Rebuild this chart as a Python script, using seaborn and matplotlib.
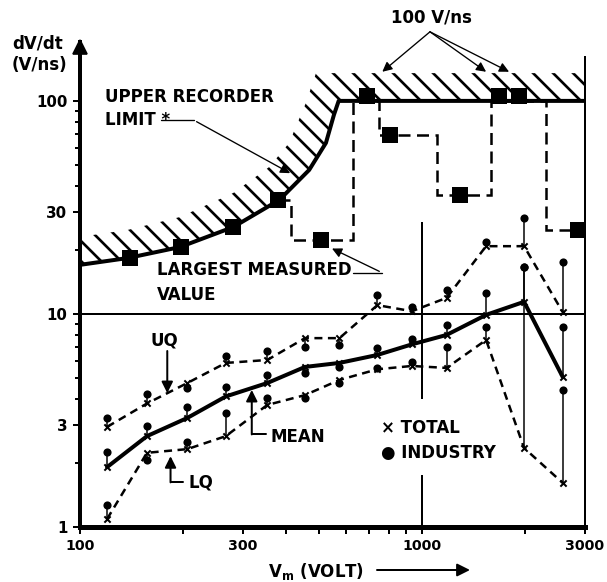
import numpy as np
import seaborn as sns
import matplotlib.pyplot as plt
from matplotlib.ticker import NullFormatter

# quartiles of dV/dt (V/ns) per Vm bin, total and industry
volt = [120, 157, 206, 267, 353, 455, 574, 741, 935, 1181, 1541, 1990, 2582]
uq_total = [2.95, 3.8, 4.74, 5.89, 6.08, 7.7, 7.7, 11.0, 10.3, 11.9, 20.8, 20.8, 10.2]
uq_ind = [3.25, 4.2, 4.5, 6.35, 6.7, 7.0, 7.15, 12.3, 10.8, 12.97, 21.8, 28.2, 17.5]
mean_total = [1.91, 2.67, 3.25, 4.1, 4.74, 5.64, 5.89, 6.42, 7.2, 7.97, 9.9, 11.4, 5.06]
mean_ind = [2.25, 2.98, 3.66, 4.56, 5.17, 5.28, 5.64, 6.92, 7.6, 8.88, 12.6, 16.6, 8.7]
lq_total = [1.09, 2.23, 2.32, 2.67, 3.74, 4.16, 4.9, 5.5, 5.7, 5.58, 7.55, 2.35, 1.61]
lq_ind = [1.27, 2.06, 2.5, 3.43, 4.03, 4.03, 4.74, 5.58, 5.95, 7.0, 8.7, 16.6, 4.4]

# upper recorder limit and its hatched band
limit_volt = [100, 138, 196, 281, 383, 468, 524, 553, 571, 3000]
limit_dvdt = [17.0, 18.3, 20.6, 25.6, 34.3, 47.4, 63.5, 86, 100, 100]
band_volt = [100, 138, 196, 281, 358, 409, 458, 490, 3000]
band_dvdt = [23.0, 24.8, 28.5, 37.0, 49.0, 63.5, 98, 135, 135]

# largest measured values
largest_volt = [140, 198, 281, 380, 506, 690, 807, 1290, 1683, 1923, 2870]
largest_dvdt = [18.3, 20.6, 25.6, 34.3, 22.3, 105, 69, 36.2, 105, 105, 24.8]
step_edges = [380, 414, 627, 750, 1105, 1596, 2302, 2870]
step_levels = [34.3, 22.3, 100, 69, 36.2, 100, 24.8]

sns.set_style("ticks")
plt.rcParams['font.family'] = ['DejaVu Sans']
plt.rcParams['font.weight'] = 'bold'
plt.rcParams['hatch.linewidth'] = 1.6
for key in ['text.color', 'axes.labelcolor', 'xtick.color', 'ytick.color',
            'axes.edgecolor']:
    plt.rcParams[key] = 'black'

fig = plt.figure(figsize=(607 / 120, 582 / 120), dpi=120)
ax = fig.add_axes([80 / 607, 1 - 527 / 582, 505 / 607, 485 / 582])
ax.set_xscale('log')
ax.set_yscale('log')
ax.set_xlim(100, 3000)
ax.set_ylim(1, 189)

# hatched region above recorder limit
ax.fill(band_volt + limit_volt[::-1], band_dvdt + limit_dvdt[::-1],
        facecolor='none', edgecolor='k', hatch='\\\\', lw=0)
ax.plot(limit_volt, limit_dvdt, color='k', lw=2.4, solid_capstyle='butt')

# largest measured value step line + squares
ax.stairs(step_levels, step_edges, baseline=None, color='k', lw=1.5,
          linestyle=(0, (4.8, 2.6)))
sns.scatterplot(x=largest_volt, y=largest_dvdt, marker='s', s=90, color='k',
                edgecolor='k', linewidth=0, ax=ax, zorder=5)

# reference lines
ax.axhline(10, color='k', lw=1.2)
ax.vlines([1000, 1000], [1, 4.0], [1.75, 27], color='k', lw=1.2)

# quartile lines (total)
sns.lineplot(x=volt, y=uq_total, color='k', lw=1.5, linestyle=(0, (3.2, 2.2)),
             errorbar=None, ax=ax)
sns.lineplot(x=volt, y=mean_total, color='k', lw=2.4, errorbar=None, ax=ax)
sns.lineplot(x=volt, y=lq_total, color='k', lw=1.5, linestyle=(0, (3.2, 2.2)),
             errorbar=None, ax=ax)

# stems from industry to total
for ind, tot in [(uq_ind, uq_total), (mean_ind, mean_total), (lq_ind, lq_total)]:
    ax.vlines(volt, ind, tot, color='k', lw=0.9)
    sns.scatterplot(x=volt, y=ind, marker='o', s=24, color='k', linewidth=0,
                    ax=ax, zorder=4)
    sns.scatterplot(x=volt, y=tot, marker='x', s=14, color='k', linewidth=1.2,
                    ax=ax, zorder=4)

# spines and ticks
ax.spines['top'].set_visible(False)
ax.spines['right'].set_bounds(1, 160)
ax.spines['right'].set_linewidth(1.2)
ax.spines['left'].set_linewidth(2.4)
ax.spines['bottom'].set_linewidth(3)
ax.plot([100], [180], marker='^', ms=8, color='k', clip_on=False)

ax.set_xticks([100, 300, 1000, 3000])
ax.set_xticklabels(['100', '300', '1000', '3000'])
ax.set_xticks([200, 400, 500, 600, 700, 800, 900, 2000], minor=True)
ax.set_yticks([1, 3, 10, 30, 100])
ax.set_yticklabels(['1', '3', '10', '30', '100'])
ax.set_yticks([2, 4, 5, 6, 7, 8, 9, 20, 40, 50, 60, 70, 80, 90], minor=True)
ax.xaxis.set_minor_formatter(NullFormatter())
ax.yaxis.set_minor_formatter(NullFormatter())
ax.tick_params(which='both', direction='out', length=4, width=1.2)
ax.tick_params(axis='x', labelsize=8.5)
ax.tick_params(axis='y', labelsize=9)
ax.tick_params(axis='y', which='minor', length=3)
ax.set_xlabel('')
ax.set_ylabel('')

# annotations
fs = 10
ax.text(118, 104, 'UPPER RECORDER', fontsize=fs, va='center')
ax.text(118, 81.3, 'LIMIT *', fontsize=fs, va='center')
ax.plot([172, 215], [81.3, 81.3], color='k', lw=0.8)
ax.annotate('', xy=(420, 45), xytext=(215, 81.3),
            arrowprops=dict(arrowstyle='-|>', color='k', lw=0.8, mutation_scale=12))

ax.text(168, 16.1, 'LARGEST MEASURED', fontsize=fs, va='center')
ax.text(168, 12.3, 'VALUE', fontsize=fs, va='center')
ax.plot([627, 766], [15.6, 15.6], color='k', lw=0.8)
ax.annotate('', xy=(535, 20.6), xytext=(766, 15.6),
            arrowprops=dict(arrowstyle='-|>', color='k', lw=0.8, mutation_scale=12))

ax.text(1069, 247, '100 V/ns', fontsize=fs, ha='center', va='center')
for tx in [766, 1541, 1799]:
    ax.annotate('', xy=(tx, 137), xytext=(1056, 211), annotation_clip=False,
                arrowprops=dict(arrowstyle='-|>', color='k', lw=0.8,
                                mutation_scale=12, shrinkA=0, shrinkB=0))

ax.text(176, 7.5, 'UQ', fontsize=fs, ha='center', va='center')
ax.annotate('', xy=(180, 4.25), xytext=(180, 6.7),
            arrowprops=dict(arrowstyle='-|>', color='k', lw=1.2, mutation_scale=14,
                            shrinkA=0, shrinkB=0))

ax.text(360, 2.65, 'MEAN', fontsize=fs, va='center')
ax.plot([350, 318], [2.72, 2.72], color='k', lw=1.2)
ax.annotate('', xy=(318, 4.4), xytext=(318, 2.72),
            arrowprops=dict(arrowstyle='-|>', color='k', lw=1.2, mutation_scale=14,
                            shrinkA=0, shrinkB=0))

ax.text(208, 1.61, 'LQ', fontsize=fs, va='center')
ax.plot([200, 184], [1.62, 1.62], color='k', lw=1.2)
ax.annotate('', xy=(184, 2.15), xytext=(184, 1.62),
            arrowprops=dict(arrowstyle='-|>', color='k', lw=1.2, mutation_scale=14,
                            shrinkA=0, shrinkB=0))

ax.text(757, 2.92, '\u00d7 TOTAL', fontsize=fs, va='center')
ax.text(757, 2.22, '\u25cf INDUSTRY', fontsize=fs, va='center')

# axis titles
fig.text(12 / 607, 1 - 43 / 582, 'dV/dt', fontsize=fs, va='center')
fig.text(12 / 607, 1 - 65 / 582, '(V/ns)', fontsize=fs, va='center')
fig.text(268 / 607, 1 - 572 / 582, r'V$_\mathbf{m}$ (VOLT)', fontsize=fs, va='center')
fig.add_artist(plt.Line2D([377 / 607, 462 / 607], [1 - 570 / 582] * 2,
                          color='k', lw=1.2))
ax.annotate('', xy=(470 / 607, 1 - 570 / 582), xytext=(440 / 607, 1 - 570 / 582),
            xycoords='figure fraction', textcoords='figure fraction',
            arrowprops=dict(arrowstyle='-|>', color='k', lw=1.2, mutation_scale=16,
                            shrinkA=0, shrinkB=0))

fig.savefig('out.png', dpi=120)
